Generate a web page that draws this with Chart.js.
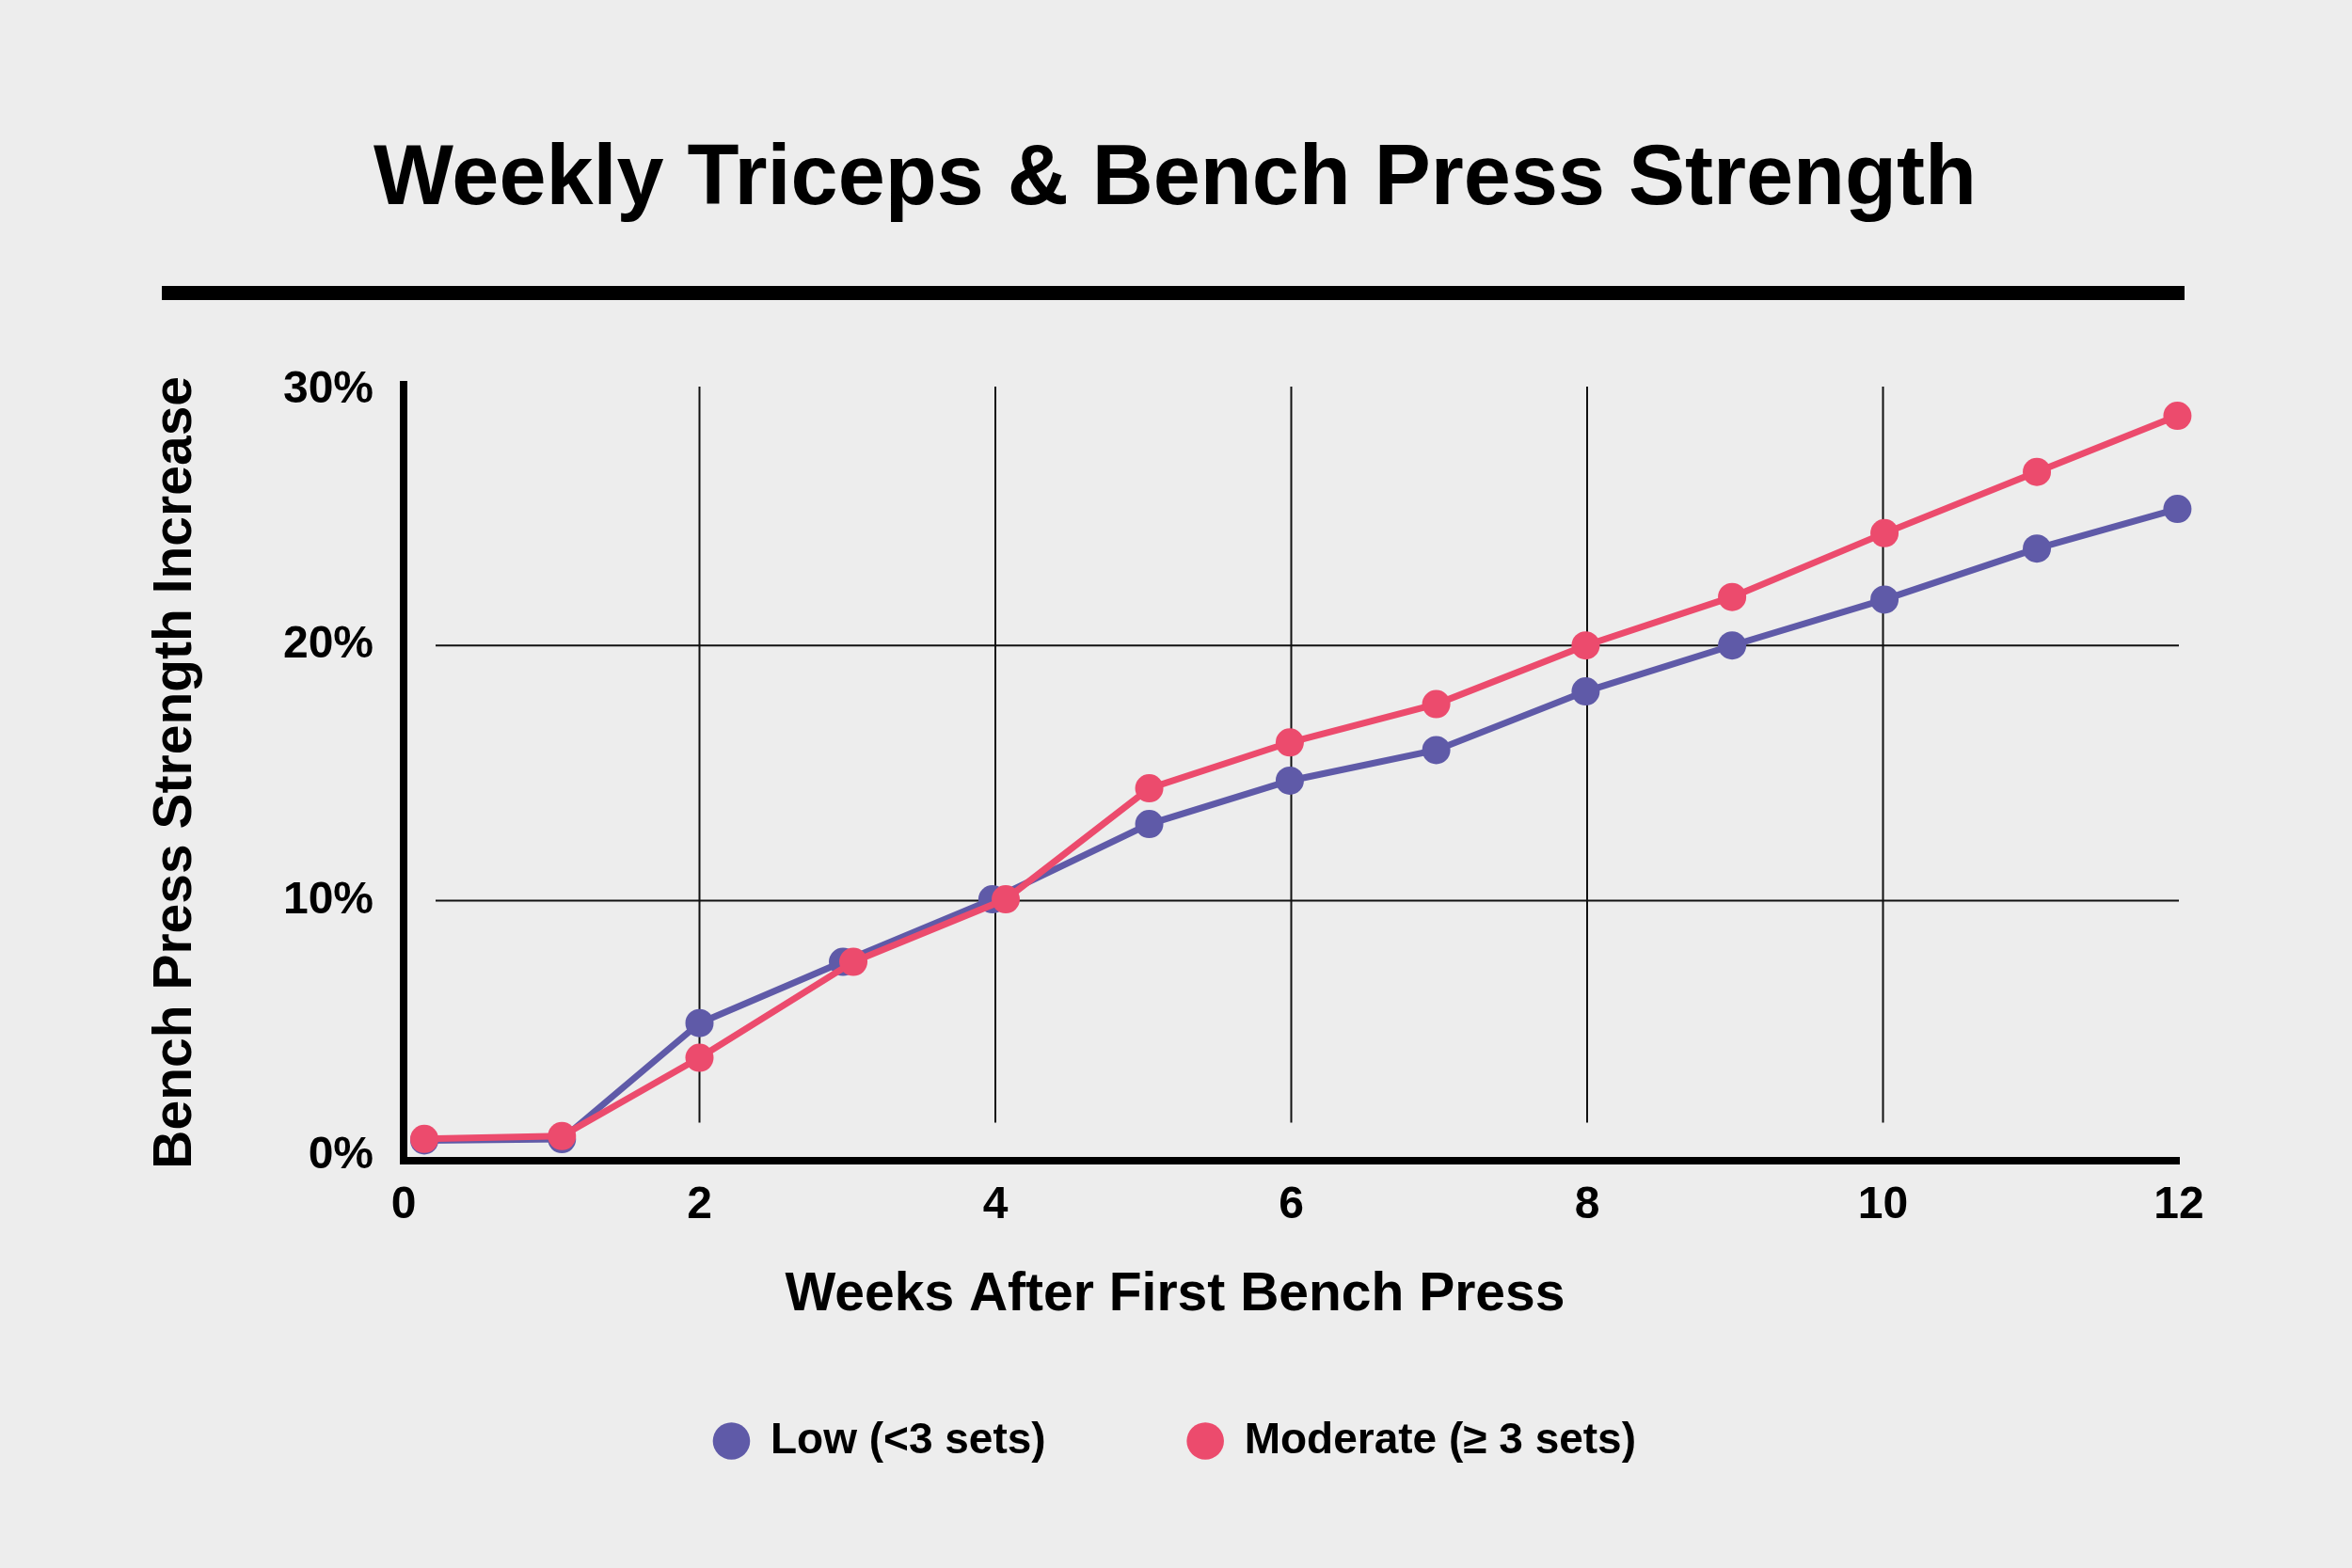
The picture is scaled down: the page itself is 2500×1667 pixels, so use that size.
<!DOCTYPE html>
<html>
<head>
<meta charset="utf-8">
<title>Weekly Triceps &amp; Bench Press Strength</title>
<script src="https://cdn.jsdelivr.net/npm/chart.js@4.4.1/dist/chart.umd.min.js"></script>
<style>
  html, body { margin: 0; padding: 0; background: #ededed; }
  canvas { display: block; }
</style>
</head>
<body>
<canvas id="chart" width="2500" height="1667"></canvas>
<script>
// values (weeks, % increase)
var weeksLow = [0.14, 1.07, 2.0, 2.97, 3.98, 5.04, 5.99, 6.98, 7.99, 8.98, 10.01, 11.04, 11.99];
var lowSets = [0.6, 0.65, 5.2, 7.6, 10.05, 13.0, 14.7, 15.9, 18.2, 20.0, 21.8, 23.8, 25.35];
var weeksModerate = [0.14, 1.07, 2.0, 3.04, 4.07, 5.04, 5.99, 6.98, 7.99, 8.98, 10.01, 11.04, 11.99];
var moderateSets = [0.66, 0.77, 3.84, 7.6, 10.05, 14.4, 16.2, 17.7, 20.0, 21.9, 24.4, 26.8, 29.0];
var weekTicks = [0, 2, 4, 6, 8, 10, 12];
var percentTicks = [0, 10, 20, 30];

var purple = '#5f5aa8';
var pink = '#ec4b6d';

function pairs(xs, ys) {
    return xs.map((x, i) => ({ x: x, y: ys[i] }));
}

Chart.defaults.font.family = "'Liberation Sans', Arial, sans-serif";
Chart.defaults.font.weight = 'bold';
Chart.defaults.color = '#000';

// thick rule under the title
var titleRule = {
    id: 'titleRule',
    beforeDraw(chart) {
        var ctx = chart.ctx;
        ctx.save();
        ctx.fillStyle = '#000';
        ctx.fillRect(172, 304, 2150, 15);
        ctx.restore();
    }
};

// inner grid lines, they stop short of the axes
var innerGrid = {
    id: 'innerGrid',
    beforeDatasetsDraw(chart) {
        var ctx = chart.ctx;
        var area = chart.chartArea;
        var x = chart.scales.x;
        var y = chart.scales.y;
        ctx.save();
        ctx.strokeStyle = '#111';
        ctx.lineWidth = 2;
        ctx.beginPath();
        weekTicks.slice(1, -1).forEach(function (v) {
            var px = x.getPixelForValue(v);
            ctx.moveTo(px, area.top + 2);
            ctx.lineTo(px, area.bottom - 40);
        });
        percentTicks.slice(1, -1).forEach(function (v) {
            var py = y.getPixelForValue(v);
            ctx.moveTo(area.left + 34, py);
            ctx.lineTo(area.right, py);
        });
        ctx.stroke();
        ctx.restore();
    }
};

var ct = document.getElementById('chart');

var grafico = new Chart(ct, {
    type: 'line',
    data: {
        datasets: [{
            label: 'Low (<3 sets)',
            data: pairs(weeksLow, lowSets),
            borderColor: purple,
            backgroundColor: purple,
            borderWidth: 7,
            pointRadius: 15,
            pointHoverRadius: 15,
            pointBorderWidth: 0,
            order: 1,
        },
        {
            label: 'Moderate (≥ 3 sets)',
            data: pairs(weeksModerate, moderateSets),
            borderColor: pink,
            backgroundColor: pink,
            borderWidth: 7,
            pointRadius: 15,
            pointHoverRadius: 15,
            pointBorderWidth: 0,
            order: 0,
        }]
    },
    options: {
        responsive: false,
        animation: false,
        devicePixelRatio: 1,
        clip: false,
        events: [],
        layout: {
            padding: { top: 0, left: 182, right: 184, bottom: 102 }
        },
        scales: {
            x: {
                type: 'linear',
                min: 0,
                max: 12,
                afterBuildTicks: function (scale) {
                    scale.ticks = weekTicks.map(v => ({ value: v }));
                },
                afterFit: function (scale) {
                    scale.height = 94;
                },
                grid: { display: false, drawTicks: false },
                border: { display: true, color: '#000', width: 8 },
                ticks: {
                    padding: 19,
                    color: '#000',
                    font: { size: 48, weight: 'bold' }
                }
            },
            y: {
                min: -0.18,
                max: 30.22,
                afterBuildTicks: function (scale) {
                    scale.ticks = percentTicks.map(v => ({ value: v }));
                },
                afterFit: function (scale) {
                    scale.width = 247;
                },
                grid: { display: false, drawTicks: false },
                border: { display: true, color: '#000', width: 8 },
                ticks: {
                    padding: 32,
                    color: '#000',
                    font: { size: 48, weight: 'bold' },
                    callback: function (v) { return v + '%'; }
                },
                title: {
                    display: true,
                    text: 'Bench Press Strength Increase',
                    color: '#000',
                    font: { size: 57, weight: 'bold' },
                    padding: { top: -29, bottom: 0 }
                }
            }
        },
        plugins: {
            title: {
                display: true,
                text: 'Weekly Triceps & Bench Press Strength',
                color: '#000',
                font: { size: 90, weight: 'bold' },
                padding: { top: 138, bottom: 163 }
            },
            subtitle: {
                display: true,
                position: 'bottom',
                weight: 500,
                text: 'Weeks After First Bench Press',
                color: '#000',
                font: { size: 57, weight: 'bold' },
                padding: { top: 15, bottom: -53 }
            },
            legend: {
                position: 'bottom',
                reverse: true,
                labels: {
                    usePointStyle: true,
                    pointStyle: 'circle',
                    boxWidth: 37,
                    boxHeight: 28,
                    padding: 151,
                    color: '#000',
                    font: { size: 46, weight: 'bold' }
                }
            },
            tooltip: { enabled: false }
        }
    },
    plugins: [titleRule, innerGrid]
});
</script>
</body>
</html>
